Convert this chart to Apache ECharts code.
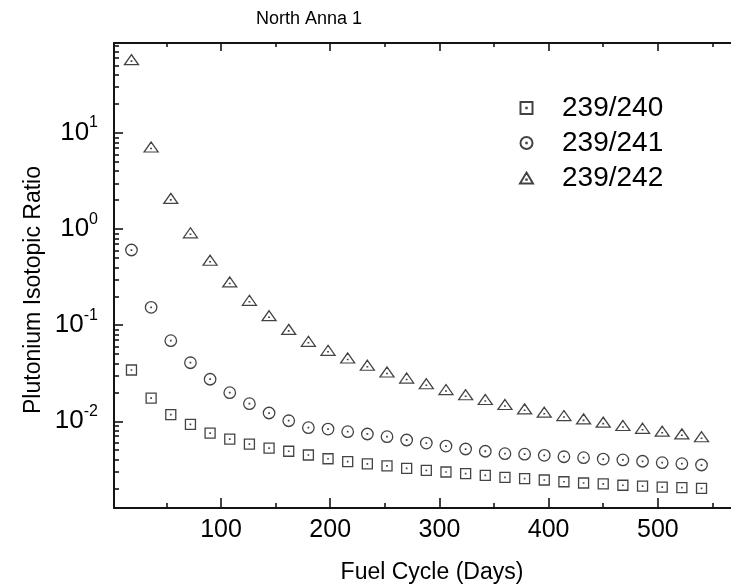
<!DOCTYPE html>
<html>
<head>
<meta charset="utf-8">
<script src="https://cdn.jsdelivr.net/npm/echarts@6/dist/echarts.min.js"></script>
<style>
  html, body { margin: 0; padding: 0; background: #ffffff; }
  #chart { width: 731px; height: 587px; }
</style>
</head>
<body>
<div id="chart"></div>
<script>
// Fuel cycle day of each sample
const days = [18, 36, 54, 72, 90, 108, 126, 144, 162, 180,
              198, 216, 234, 252, 270, 288, 306, 324, 342, 360,
              378, 396, 414, 432, 450, 468, 486, 504, 522, 540];

// Pu-239 / Pu-240
const ratio240 = [0.0342, 0.01747, 0.01172, 0.00931, 0.00755, 0.00654, 0.0058, 0.00527, 0.00488, 0.00446,
                  0.00408, 0.0038, 0.0036, 0.00343, 0.00324, 0.00309, 0.00297, 0.00285, 0.00274, 0.00261,
                  0.00253, 0.00245, 0.00235, 0.00228, 0.00223, 0.00216, 0.00212, 0.00207, 0.00204, 0.00201];

// Pu-239 / Pu-241
const ratio241 = [0.606, 0.1535, 0.069, 0.0407, 0.0274, 0.01985, 0.01525, 0.0122, 0.01014, 0.00858,
                  0.00831, 0.0078, 0.00738, 0.00692, 0.00639, 0.00594, 0.00553, 0.00515, 0.00488, 0.0046,
                  0.00455, 0.00443, 0.00428, 0.00418, 0.00405, 0.00396, 0.00384, 0.00371, 0.00362, 0.00351];

// Pu-239 / Pu-242
const ratio242 = [58, 7.15, 2.09, 0.915, 0.474, 0.282, 0.1816, 0.1256, 0.0906, 0.068,
                  0.0548, 0.0456, 0.0383, 0.0326, 0.0282, 0.0246, 0.0214, 0.0189, 0.01686, 0.01496,
                  0.01349, 0.01244, 0.01148, 0.01061, 0.0098, 0.00904, 0.00846, 0.00789, 0.00741, 0.00691];

const seriesNames = ['239/240', '239/241', '239/242'];

// Axis ticks
const xMajorTicks = [100, 200, 300, 400, 500];
const xMinorTicks = [50, 150, 250, 350, 450, 550];
const yMajorTicks = [0.01, 0.1, 1, 10];
const yMinorTicks = [0.002, 0.003, 0.004, 0.005, 0.006, 0.007, 0.008, 0.009,
                     0.02, 0.03, 0.04, 0.05, 0.06, 0.07, 0.08, 0.09,
                     0.2, 0.3, 0.4, 0.5, 0.6, 0.7, 0.8, 0.9,
                     2, 3, 4, 5, 6, 7, 8, 9,
                     20, 30, 40, 50, 60, 70, 80];

const X_MIN = 2, X_MAX = 567;
const Y_MIN = 0.001253, Y_MAX = 86.4;

const FONT = '"Liberation Sans", Arial, sans-serif';
const INK = '#141414';

// Open markers with a small centre dot
const SQUARE = 'path://M0,0L10,0L10,10L0,10Z M4.8,4.8L5.2,4.8L5.2,5.2L4.8,5.2Z';
const CIRCLE = 'path://M0,5A5,5,0,1,1,10,5A5,5,0,1,1,0,5Z M4.8,4.8L5.2,4.8L5.2,5.2L4.8,5.2Z';
const TRIANGLE = 'path://M6,0L12,10L0,10Z M5.8,6.3L6.2,6.3L6.2,6.7L5.8,6.7Z';

function pairs(values) {
  return days.map((d, i) => [d, values[i]]);
}

function xAxisDef(position, ticks, len, showLine, showLabel) {
  return {
    type: 'value', position: position, min: X_MIN, max: X_MAX,
    axisLine: { show: showLine, onZero: false, lineStyle: { color: INK, width: 2 } },
    axisTick: { show: true, inside: true, length: len, customValues: ticks, lineStyle: { color: INK, width: 1.6 } },
    axisLabel: showLabel
      ? { show: true, customValues: ticks, margin: 10, fontSize: 25, color: '#000', fontFamily: FONT }
      : { show: false },
    splitLine: { show: false }
  };
}

function yAxisDef(ticks, len, showLine, showLabel) {
  return {
    type: 'log', logBase: 10, position: 'left', min: Y_MIN, max: Y_MAX,
    axisLine: { show: showLine, onZero: false, lineStyle: { color: INK, width: 2 } },
    axisTick: { show: true, inside: true, length: len, customValues: ticks, lineStyle: { color: INK, width: 1.6 } },
    axisLabel: showLabel ? {
      show: true, customValues: ticks, margin: 16,
      formatter: v => '{b|10}{s|' + Math.round(Math.log10(v)) + '}',
      rich: {
        b: { fontSize: 26, fontFamily: FONT, color: '#000', lineHeight: 36 },
        s: { fontSize: 16, fontFamily: FONT, color: '#000', verticalAlign: 'top', lineHeight: 16 }
      }
    } : { show: false },
    splitLine: { show: false },
    minorTick: { show: false }
  };
}

function scatter(name, symbol, size, values) {
  return {
    name: name, type: 'scatter', xAxisIndex: 0, yAxisIndex: 0,
    symbol: symbol, symbolSize: size, symbolKeepAspect: true,
    itemStyle: { color: 'rgba(255,255,255,0)', borderColor: INK, borderWidth: 1.3 },
    emphasis: { disabled: true },
    data: pairs(values)
  };
}

const chart = echarts.init(document.getElementById('chart'), null, { renderer: 'canvas' });

chart.setOption({
  backgroundColor: '#ffffff',
  animation: false,
  title: {
    text: 'North Anna 1', left: 256, top: 10, padding: 0,
    textStyle: { fontSize: 18, fontWeight: 'normal', color: '#000', fontFamily: FONT }
  },
  grid: { left: 114, right: -3, top: 43, bottom: 79, containLabel: false },
  legend: {
    orient: 'vertical', left: 514, top: 89, itemGap: 7,
    itemWidth: 13, itemHeight: 12,
    data: seriesNames,
    textStyle: { fontSize: 28, color: '#000', fontFamily: FONT, lineHeight: 27, padding: [0, 0, 0, 24] }
  },
  xAxis: [
    xAxisDef('bottom', xMajorTicks, 10, true, true),
    xAxisDef('bottom', xMinorTicks, 5, false, false),
    xAxisDef('top', xMajorTicks, 8, true, false),
    xAxisDef('top', xMinorTicks, 4, false, false)
  ],
  yAxis: [
    yAxisDef(yMajorTicks, 9, true, true),
    yAxisDef(yMinorTicks, 5, false, false)
  ],
  graphic: [
    {
      type: 'text', x: 432, y: 573,
      style: { text: 'Fuel Cycle (Days)', fontSize: 23, fontFamily: FONT, fill: '#000', align: 'center', verticalAlign: 'middle' }
    },
    {
      type: 'text', x: 34, y: 290, rotation: Math.PI / 2,
      style: { text: 'Plutonium Isotopic Ratio', fontSize: 23, fontFamily: FONT, fill: '#000', align: 'center', verticalAlign: 'middle' }
    }
  ],
  series: [
    scatter(seriesNames[0], SQUARE, 10, ratio240),
    scatter(seriesNames[1], CIRCLE, 11.5, ratio241),
    scatter(seriesNames[2], TRIANGLE, [14, 12], ratio242)
  ]
});
</script>
</body>
</html>
